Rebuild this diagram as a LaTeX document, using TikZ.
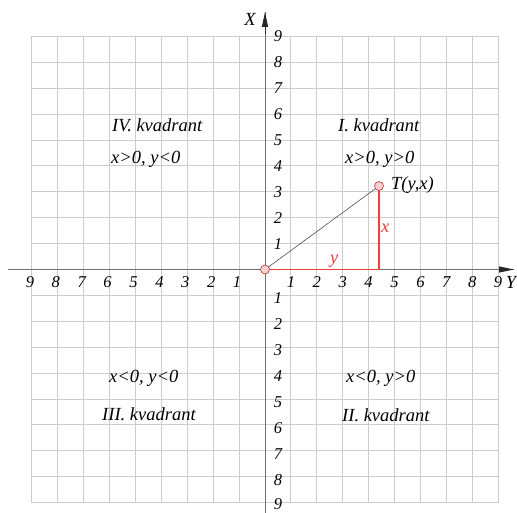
\documentclass[tikz,border=0pt]{standalone}
\usepackage{fontspec}
\setmainfont{Liberation Serif}
\usetikzlibrary{arrows.meta}
\definecolor{gridc}{RGB}{204,204,204}
\definecolor{axisc}{RGB}{112,112,112}
\definecolor{redc}{RGB}{240,60,60}
\definecolor{pinkc}{RGB}{248,208,208}
\begin{document}
\begin{tikzpicture}[x=1pt,y=-1pt,
  gridline/.style={draw=gridc,line width=0.9pt},
  axisline/.style={draw=axisc,line width=1pt},
  num/.style={font=\fontsize{16.5}{18}\selectfont\itshape,inner sep=0pt},
  lbl/.style={font=\fontsize{18.5}{20}\selectfont\itshape,inner sep=0pt,anchor=west},
  ptmark/.style={circle,draw=redc!80!black,fill=pinkc,line width=0.6pt,minimum size=9pt,inner sep=0pt},
  redline/.style={color=redc,line width=1.1pt},
  arr/.style={-{Triangle[length=15pt,width=6pt]},line width=1pt,draw=black!85}]
\useasboundingbox (0,0) rectangle (517,513);
\def\u{25.9}
\def\ox{265}
\def\oy{269.5}
% grid
\foreach \i in {-9,...,-1,1,2,...,9}{
  \draw[gridline] ({\ox-9*\u},{\oy+\i*\u}) -- ({\ox+9*\u},{\oy+\i*\u});
}
\foreach \i in {-9,...,9}{
  \draw[gridline] ({\ox+\i*\u},{\oy-9*\u}) -- ({\ox+\i*\u},{\oy+9*\u});
}
% axes
\coordinate (hs) at (8,\oy);
\coordinate (he) at (514,\oy);
\coordinate (vs) at (\ox,513);
\coordinate (ve) at (\ox,12);
\coordinate (B) at (379,\oy);
\coordinate (C) at (269,\oy);
\draw[axisline] (hs) -- (C);
\draw[axisline] (B) -- (he);
\fill[redc] (269,268.7) rectangle (379.5,270.3);
\draw[axisline] (vs) -- (ve);
\draw[arr] (499,\oy) -- (he);
\draw[arr] (\ox,34) -- (ve);
\node[lbl,anchor=center] (Xl) at (250,19) {X};
\node[lbl,anchor=center] (Yl) at (511,282) {Y};
% numbers
\foreach \i in {1,...,8}{
  \node[num] at (278,{\oy+\i*\u+3}) {\i};
}
\foreach \i in {1,...,9}{
  \node[num] at ({\ox+\i*\u},282) {\i};
  \node[num] at ({\ox-\i*\u-2},282) {\i};
  \node[num] at (278,{\oy-\i*\u}) {\i};
}
\node[num] at (278,504) {9};
% point
\coordinate (A) at (379,186);
\draw[redline] (B) -- (A);
\draw[draw=black!70,line width=0.6pt] (\ox,\oy) -- (A);
\node[ptmark] (O) at (\ox,\oy) {};
\node[ptmark] (T) at (A) {};
\node[lbl] (Tl) at (391,185) {T(y,x)};
\node[lbl,text=redc] (xl) at (381,228) {x};
\node[lbl,text=redc] (yl) at (330,261) {y};
% quadrant texts
\node[lbl] (q1) at (338,125) {I. kvadrant};
\node[lbl] (c1) at (345,159) {x>0, y>0};
\node[lbl] (q4) at (112,125) {IV. kvadrant};
\node[lbl] (c4) at (111,159) {x>0, y<0};
\node[lbl] (c3) at (109,378) {x<0, y<0};
\node[lbl] (q3) at (102,414) {III. kvadrant};
\node[lbl] (c2) at (346,378) {x<0, y>0};
\node[lbl] (q2) at (342,415) {II. kvadrant};
\end{tikzpicture}
\end{document}
